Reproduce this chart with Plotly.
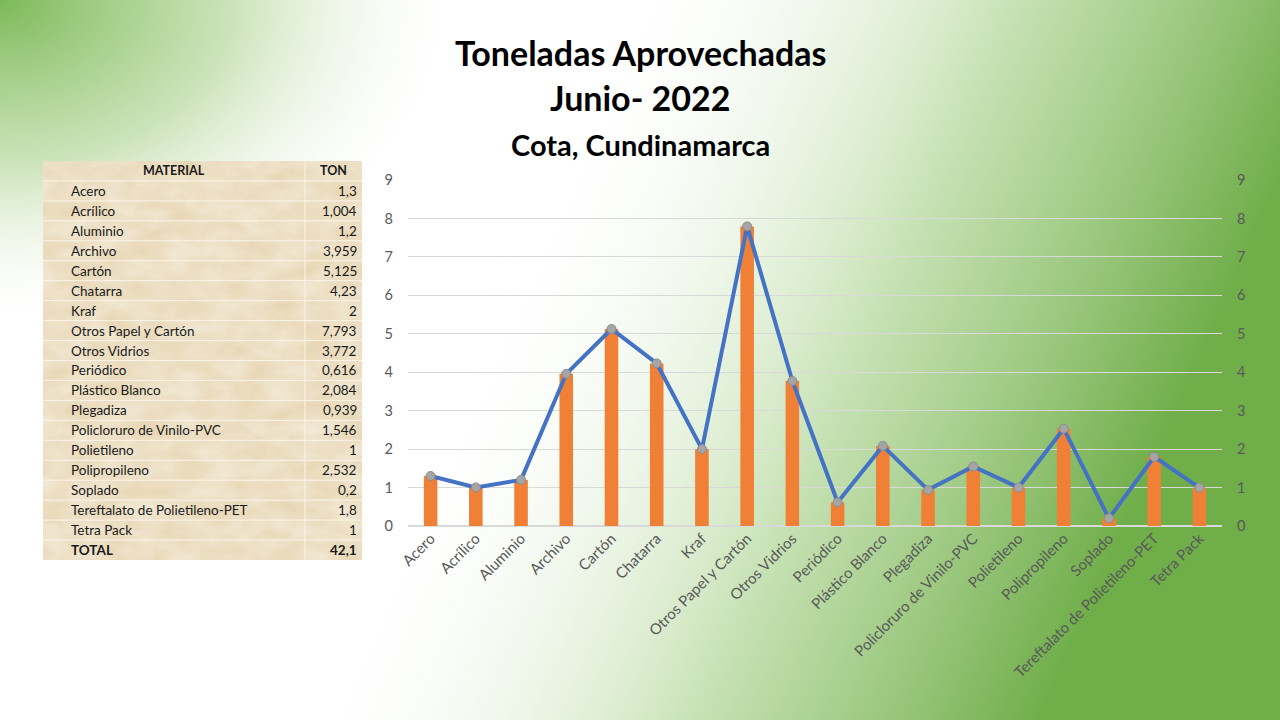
import base64
import plotly.graph_objects as go

W, H = 1280, 720

materials = [
    "Acero", "Acrílico", "Aluminio", "Archivo", "Cartón", "Chatarra", "Kraf",
    "Otros Papel y Cartón", "Otros Vidrios", "Periódico", "Plástico Blanco",
    "Plegadiza", "Policloruro de Vinilo-PVC", "Polietileno", "Polipropileno",
    "Soplado", "Tereftalato de Polietileno-PET", "Tetra Pack",
]
toneladas = [1.3, 1.004, 1.2, 3.959, 5.125, 4.23, 2, 7.793, 3.772, 0.616,
             2.084, 0.939, 1.546, 1, 2.532, 0.2, 1.8, 1]
ton_labels = ["1,3", "1,004", "1,2", "3,959", "5,125", "4,23", "2", "7,793",
              "3,772", "0,616", "2,084", "0,939", "1,546", "1", "2,532", "0,2",
              "1,8", "1"]
total_label = "42,1"
y_ticks = list(range(0, 10))

# table box (pixels)
TB_L, TB_R, TB_T, TB_DIV = 43, 362, 161, 305
ROW_H = 19.95

# background: green gradient slide + parchment texture behind the table
n_rows = len(materials) + 2
tb_h = n_rows * ROW_H
svg = f"""<svg xmlns='http://www.w3.org/2000/svg' width='{W}' height='{H}' viewBox='0 0 {W} {H}'>
<defs>
<linearGradient id='h' x1='0' y1='0' x2='1' y2='0.25'>
 <stop offset='0.45' stop-color='#ffffff' stop-opacity='0'/>
 <stop offset='0.75' stop-color='#bcdca6' stop-opacity='0.85'/>
 <stop offset='1' stop-color='#70ae4a' stop-opacity='1'/>
</linearGradient>
<radialGradient id='c' gradientUnits='userSpaceOnUse' cx='0' cy='0' r='1'
  gradientTransform='scale(470 330)'>
 <stop offset='0' stop-color='#7dba59'/>
 <stop offset='0.5' stop-color='#c3dfae' stop-opacity='0.85'/>
 <stop offset='1' stop-color='#ffffff' stop-opacity='0'/>
</radialGradient>
<filter id='paper' x='0' y='0' width='100%' height='100%'>
 <feTurbulence type='fractalNoise' baseFrequency='0.03 0.05' numOctaves='4' seed='3' result='n'/>
 <feColorMatrix in='n' type='matrix' values='0 0 0 0 0.95  0 0 0 0 0.90  0 0 0 0 0.80  0 0 0 -0.8 0.7' result='t'/>
 <feFlood flood-color='#e7d6b3' result='f'/>
 <feComposite in='t' in2='f' operator='over'/>
</filter>
</defs>
<rect width='{W}' height='{H}' fill='#ffffff'/>
<rect width='{W}' height='{H}' fill='url(#h)'/>
<rect width='{W}' height='{H}' fill='url(#c)'/>
<rect x='{TB_L}' y='{TB_T}' width='{TB_R - TB_L}' height='{tb_h:.1f}' filter='url(#paper)'/>
</svg>"""
bg_src = "data:image/svg+xml;base64," + base64.b64encode(svg.encode("utf-8")).decode()


def px(x):
    return x / W


def py(y):
    return 1 - y / H


fig = go.Figure()

# bars
fig.add_trace(go.Bar(
    x=materials, y=toneladas,
    width=0.3,
    marker=dict(color="#ef8035", line=dict(width=0)),
    showlegend=False,
    hoverinfo="x+y",
))

# line on secondary axis
fig.add_trace(go.Scatter(
    x=materials, y=toneladas,
    yaxis="y2",
    mode="lines+markers",
    line=dict(color="#4472c4", width=4),
    marker=dict(color="#a5a5a5", size=9, line=dict(color="#8c8c8c", width=1)),
    showlegend=False,
    hoverinfo="skip",
))

tick_font = dict(family="Lato", size=15, color="#595959")
cell_font = dict(family="Lato", size=13.5, color="#1a1a1a")

# table: text as annotations, white grid lines as shapes
annotations = []
shapes = []
header = ["MATERIAL", "TON"]
rows = [(m, t) for m, t in zip(materials, ton_labels)]
annotations.append(dict(text=f"<b>{header[0]}</b>", x=px((TB_L + TB_DIV) / 2),
                        y=py(TB_T + ROW_H / 2), xanchor="center",
                        font=dict(family="Lato", size=12.5, color="#1a1a1a")))
annotations.append(dict(text=f"<b>{header[1]}</b>", x=px((TB_DIV + TB_R) / 2),
                        y=py(TB_T + ROW_H / 2), xanchor="center",
                        font=dict(family="Lato", size=12.5, color="#1a1a1a")))
for i, (m, t) in enumerate(rows + [("<b>TOTAL</b>", f"<b>{total_label}</b>")]):
    yc = TB_T + ROW_H * (i + 1.5)
    annotations.append(dict(text=m, x=px(69), y=py(yc), xanchor="left", font=cell_font))
    annotations.append(dict(text=t, x=px(TB_R - 3), y=py(yc), xanchor="right", font=cell_font))
for i in range(1, n_rows):
    yl = TB_T + ROW_H * i
    shapes.append(dict(type="line", xref="paper", yref="paper",
                       x0=px(TB_L), x1=px(TB_R), y0=py(yl), y1=py(yl),
                       line=dict(color="#fbf5e8", width=1), layer="above"))
shapes.append(dict(type="line", xref="paper", yref="paper",
                   x0=px(TB_DIV), x1=px(TB_DIV), y0=py(TB_T), y1=py(TB_T + tb_h),
                   line=dict(color="#fbf5e8", width=1), layer="above"))
for a in annotations:
    a.update(xref="paper", yref="paper", yanchor="middle", showarrow=False)

# titles
titles = [("Toneladas Aprovechadas", 53, 34), ("Junio- 2022", 98, 34),
          ("Cota, Cundinamarca", 145, 29)]
for text, yc, size in titles:
    annotations.append(dict(text=f"<b>{text}</b>", x=0.5, y=py(yc),
                            xref="paper", yref="paper", xanchor="center",
                            yanchor="middle", showarrow=False,
                            font=dict(family="Lato", size=size, color="#000000")))

fig.update_layout(
    width=W, height=H,
    margin=dict(l=0, r=0, t=0, b=0),
    paper_bgcolor="#ffffff",
    plot_bgcolor="rgba(0,0,0,0)",
    xaxis=dict(
        domain=[px(408), px(1222)],
        range=[-0.5, len(materials) - 0.5],
        tickangle=-45,
        tickfont=tick_font,
        showgrid=False,
        showline=False,
        ticks="",
        automargin=False,
    ),
    yaxis=dict(
        domain=[py(526), py(180)],
        range=[0, 9],
        tickvals=y_ticks,
        tickfont=dict(family="Lato", size=14.5, color="#595959"),
        gridcolor="#d9d9d9",
        gridwidth=1,
        zeroline=True,
        zerolinecolor="#d9d9d9",
        ticks="",
        ticklabelstandoff=14,
        automargin=False,
    ),
    yaxis2=dict(
        overlaying="y",
        side="right",
        range=[0, 9],
        tickvals=y_ticks,
        tickfont=dict(family="Lato", size=14.5, color="#595959"),
        showgrid=False,
        zeroline=False,
        ticks="",
        ticklabelstandoff=14,
        automargin=False,
    ),
    images=[dict(
        source=bg_src, xref="paper", yref="paper",
        x=0, y=1, sizex=1, sizey=1, sizing="stretch",
        xanchor="left", yanchor="top", layer="below",
    )],
    annotations=annotations,
    shapes=shapes,
)

fig.write_html("out.html", config={"displayModeBar": False},
               post_script="document.body.style.margin='0';")
